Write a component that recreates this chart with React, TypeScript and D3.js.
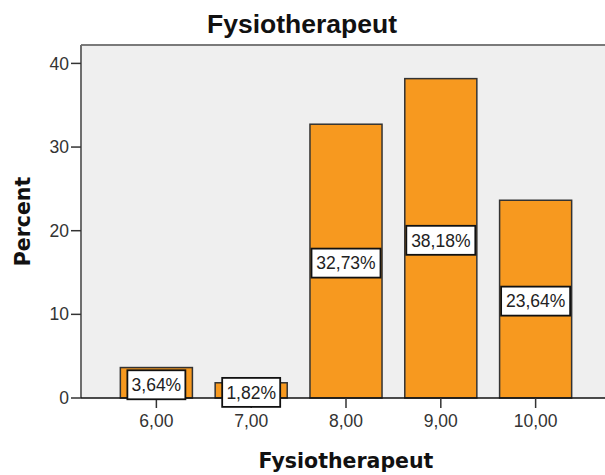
import React from "react";
import * as d3 from "d3";

const categories = [6, 7, 8, 9, 10];
const percents = [3.64, 1.82, 32.73, 38.18, 23.64];
const yTicks = [0, 10, 20, 30, 40];
const title = "Fysiotherapeut";
const xTitle = "Fysiotherapeut";
const yTitle = "Percent";

const W = 605;
const H = 475;
const plot = { left: 81, top: 45, right: 611, bottom: 398 };

const commaFmt = (v: number) => d3.format(".2f")(v).replace(".", ",");

export default function App() {
  const x = d3
    .scaleBand<number>()
    .domain(categories)
    .range([plot.left, plot.right])
    .paddingInner(0.24)
    .paddingOuter(0.415);
  const y = d3.scaleLinear().domain([0, 42.2]).range([plot.bottom, plot.top]);
  const bw = x.bandwidth();
  const tickFont = "'Liberation Sans', Arial, sans-serif";
  const titleFont = "'DejaVu Sans', Verdana, sans-serif";

  return (
    <svg
      width={W}
      height={H}
      style={{ position: "absolute", left: 0, top: 0, background: "#fff" }}
    >
      <rect
        x={plot.left}
        y={plot.top}
        width={plot.right - plot.left}
        height={plot.bottom - plot.top}
        fill="#efefef"
      />
      <line x1={plot.left} x2={plot.right} y1={plot.top} y2={plot.top} stroke="#7a7a7a" strokeWidth={2} />
      <line x1={plot.left} x2={plot.left} y1={plot.top} y2={plot.bottom} stroke="#6e6e6e" strokeWidth={2} />

      {categories.map((c, i) => {
        const v = percents[i];
        const x0 = x(c)!;
        return (
          <rect
            key={c}
            x={x0}
            y={y(v)}
            width={bw}
            height={y(0) - y(v)}
            fill="#f7991f"
            stroke="#333"
            strokeWidth={1.5}
          />
        );
      })}

      {/* x axis */}
      <line x1={plot.left} x2={plot.right} y1={plot.bottom} y2={plot.bottom} stroke="#111" strokeWidth={1.5} />
      {categories.map((c) => {
        const cx = x(c)! + bw / 2;
        return (
          <g key={"xt" + c}>
            <line x1={cx} x2={cx} y1={plot.bottom} y2={plot.bottom + 10} stroke="#333" strokeWidth={1.5} />
            <text
              x={cx}
              y={plot.bottom + 29}
              textAnchor="middle"
              fontFamily={tickFont}
              fontSize={17.5}
              fill="#333"
            >
              {commaFmt(c)}
            </text>
          </g>
        );
      })}

      {/* y axis */}
      {yTicks.map((t) => (
        <g key={"yt" + t}>
          <line x1={plot.left - 10} x2={plot.left} y1={y(t)} y2={y(t)} stroke="#333" strokeWidth={1.5} />
          <text
            x={plot.left - 12}
            y={y(t)}
            dy="0.35em"
            textAnchor="end"
            fontFamily={tickFont}
            fontSize={17.5}
            fill="#333"
          >
            {t}
          </text>
        </g>
      ))}

      {/* data labels */}
      {categories.map((c, i) => {
        const v = percents[i];
        const cx = x(c)! + bw / 2;
        const cy = (y(v) + y(0)) / 2 + 2;
        const label = commaFmt(v) + "%";
        const boxW = label.length >= 6 ? 69 : 58;
        const boxH = 29;
        return (
          <g key={"lb" + c}>
            <rect
              x={cx - boxW / 2}
              y={cy - boxH / 2}
              width={boxW}
              height={boxH}
              fill="#fff"
              stroke="#111"
              strokeWidth={1.8}
            />
            <text
              x={cx}
              y={cy}
              dy="0.36em"
              textAnchor="middle"
              fontFamily={tickFont}
              fontSize={17.5}
              fill="#222"
            >
              {label}
            </text>
          </g>
        );
      })}

      <text
        x={302}
        y={33}
        textAnchor="middle"
        fontFamily="'Liberation Sans', Arial, sans-serif"
        fontWeight="bold"
        fontSize={26.5}
        fill="#111"
      >
        {title}
      </text>
      <text
        x={(plot.left + plot.right) / 2}
        y={468}
        textAnchor="middle"
        fontFamily={titleFont}
        fontWeight="bold"
        fontSize={20.5}
        fill="#111"
      >
        {xTitle}
      </text>
      <text
        transform={`translate(30, ${(plot.top + plot.bottom) / 2}) rotate(-90)`}
        textAnchor="middle"
        fontFamily={titleFont}
        fontWeight="bold"
        fontSize={20.5}
        fill="#111"
      >
        {yTitle}
      </text>
    </svg>
  );
}
